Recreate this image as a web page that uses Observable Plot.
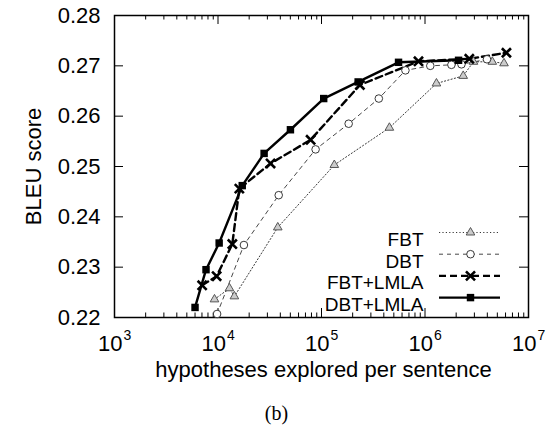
<!DOCTYPE html>
<html><head><meta charset="utf-8">
<script src="https://cdn.jsdelivr.net/npm/d3@7"></script>
<script src="https://cdn.jsdelivr.net/npm/@observablehq/plot@0.6"></script>
<style>body{margin:0;background:#fff}</style>
</head><body><div id="chart"></div>
<script>
// ---- data ----
const seriesNames = ["FBT", "DBT", "FBT+LMLA", "DBT+LMLA"];
const fbtX = [9250, 12900, 14400, 37800, 133000, 453000, 1290000, 2340000, 2940000, 4470000, 5800000];
const fbtY = [0.2236, 0.2258, 0.2242, 0.2379, 0.2503, 0.2577, 0.2665, 0.2680, 0.2708, 0.2708, 0.2705];
const dbtX = [9800, 17800, 38600, 87700, 183000, 358000, 647000, 1125000, 1800000, 2250000, 3970000];
const dbtY = [0.2207, 0.2344, 0.2443, 0.2534, 0.2585, 0.2635, 0.2691, 0.2700, 0.2702, 0.2703, 0.2713];
const fbtLmlaX = [7030, 9700, 13750, 16070, 32200, 78500, 235000, 865000, 2680000, 6120000];
const fbtLmlaY = [0.2264, 0.2282, 0.2346, 0.2456, 0.2506, 0.2553, 0.2662, 0.2709, 0.2714, 0.2726];
const dbtLmlaX = [6000, 7660, 10260, 17150, 27900, 50100, 105000, 226000, 555000, 2110000];
const dbtLmlaY = [0.2220, 0.2295, 0.2348, 0.2462, 0.2526, 0.2573, 0.2635, 0.2668, 0.2707, 0.2711];

const xMajor = [1e3, 1e4, 1e5, 1e6, 1e7];
const xExponents = ["3", "4", "5", "6", "7"];
const yTicks = [0.22, 0.23, 0.24, 0.25, 0.26, 0.27, 0.28];
const yTickLabels = ["0.22", "0.23", "0.24", "0.25", "0.26", "0.27", "0.28"];
const xLabel = "hypotheses explored per sentence";
const yLabel = "BLEU score";
const caption = "(b)";

// ---- layout ----
const W = 553, H = 427;
const mt = 15, mr = 25, mb = 110, ml = 114;
const fw = W - ml - mr, fh = H - mt - mb;
const font = "'Liberation Sans', Arial, Helvetica, sans-serif";
const fs = 22;
const legendFs = 19;
const xMinor = [];
for (let i = 0; i < xMajor.length - 1; i++) for (let k = 2; k <= 9; k++) xMinor.push(k * xMajor[i]);

const styles = [
  {line: {stroke: "#222", strokeWidth: 0.9, strokeDasharray: "1.2,2.2"}, dot: {symbol: "triangle", r: 3.2, stroke: "#555", fill: "#ccc", strokeWidth: 1}},
  {line: {stroke: "#333", strokeWidth: 0.9, strokeDasharray: "4,4"}, dot: {symbol: "circle", r: 3.8, stroke: "#222", fill: "white", strokeWidth: 0.9}},
  {line: {stroke: "black", strokeWidth: 2.4, strokeDasharray: "7,4"}, dot: {symbol: "times", r: 4.2, stroke: "black", strokeWidth: 2.6}},
  {line: {stroke: "black", strokeWidth: 2.4}, dot: {symbol: "square", r: 4.2, fill: "black", stroke: "none"}}
];
const xsAll = [fbtX, dbtX, fbtLmlaX, dbtLmlaX];
const ysAll = [fbtY, dbtY, fbtLmlaY, dbtLmlaY];

const marks = [];
// ticks (inward, all sides)
marks.push(Plot.ruleX(xMinor, {x: d => d, insetTop: fh - 4.5, strokeWidth: 1}));
marks.push(Plot.ruleX(xMinor, {x: d => d, insetBottom: fh - 4.5, strokeWidth: 1}));
marks.push(Plot.ruleX(xMajor, {x: d => d, insetTop: fh - 9, strokeWidth: 1}));
marks.push(Plot.ruleX(xMajor, {x: d => d, insetBottom: fh - 9, strokeWidth: 1}));
marks.push(Plot.ruleY(yTicks, {y: d => d, insetRight: fw - 9, strokeWidth: 1}));
marks.push(Plot.ruleY(yTicks, {y: d => d, insetLeft: fw - 9, strokeWidth: 1}));
marks.push(Plot.frame({stroke: "black", strokeWidth: 1.5}));

// tick labels
marks.push(Plot.text(yTicks, {y: d => d, text: (d, i) => yTickLabels[i], frameAnchor: "left", dx: -14, textAnchor: "end", fontSize: fs, fontFamily: font, fill: "black"}));
marks.push(Plot.text(xMajor, {x: d => d, text: () => "10", frameAnchor: "bottom", dy: 33, dx: 8, lineAnchor: "bottom", textAnchor: "end", fontSize: fs, fontFamily: font, fill: "black"}));
marks.push(Plot.text(xMajor, {x: d => d, text: (d, i) => xExponents[i], frameAnchor: "bottom", dy: 22, dx: 9, lineAnchor: "bottom", textAnchor: "start", fontSize: 14, fontFamily: font, fill: "black"}));

// axis labels and caption
marks.push(Plot.text([xLabel], {text: d => d, frameAnchor: "bottom", dy: 59, dx: 2, lineAnchor: "bottom", textAnchor: "middle", fontSize: 22, fontFamily: font, fill: "black"}));
marks.push(Plot.text([yLabel], {text: d => d, frameAnchor: "left", dx: -81, rotate: -90, textAnchor: "middle", fontSize: fs, fontFamily: font, fill: "black"}));
marks.push(Plot.text([caption], {text: d => d, frameAnchor: "bottom", dy: 102, dx: -45, lineAnchor: "bottom", textAnchor: "middle", fontSize: 20, fontFamily: "'Liberation Serif', 'Times New Roman', serif", fill: "black"}));

// series
for (let s = 0; s < 4; s++) {
  const data = xsAll[s].map((x, i) => ({x, y: ysAll[s][i]}));
  marks.push(Plot.line(data, {x: "x", y: "y", ...styles[s].line}));
}
for (let s = 0; s < 4; s++) {
  const data = xsAll[s].map((x, i) => ({x, y: ysAll[s][i]}));
  marks.push(Plot.dot(data, {x: "x", y: "y", ...styles[s].dot}));
}

// legend
const yTop = yTicks[yTicks.length - 1];
for (let s = 0; s < 4; s++) {
  const rowDy = 217 + s * 21.7;
  marks.push(Plot.text([seriesNames[s]], {text: d => d, frameAnchor: "top-right", dx: -105, dy: rowDy, textAnchor: "end", fontSize: legendFs, fontFamily: font, fill: "black"}));
  marks.push(Plot.ruleY([yTop], {y: d => d, insetLeft: 325, insetRight: 28, dy: rowDy, ...styles[s].line}));
  marks.push(Plot.dot([0], {frameAnchor: "top-right", dx: -58, dy: rowDy, ...styles[s].dot}));
}

const chart = Plot.plot({
  width: W, height: H,
  marginTop: mt, marginRight: mr, marginBottom: mb, marginLeft: ml,
  x: {type: "log", domain: [1e3, 1e7], axis: null},
  y: {domain: [0.22, 0.28], axis: null},
  style: {background: "white", overflow: "visible"},
  marks
});
document.getElementById("chart").appendChild(chart);
</script>
</body></html>
